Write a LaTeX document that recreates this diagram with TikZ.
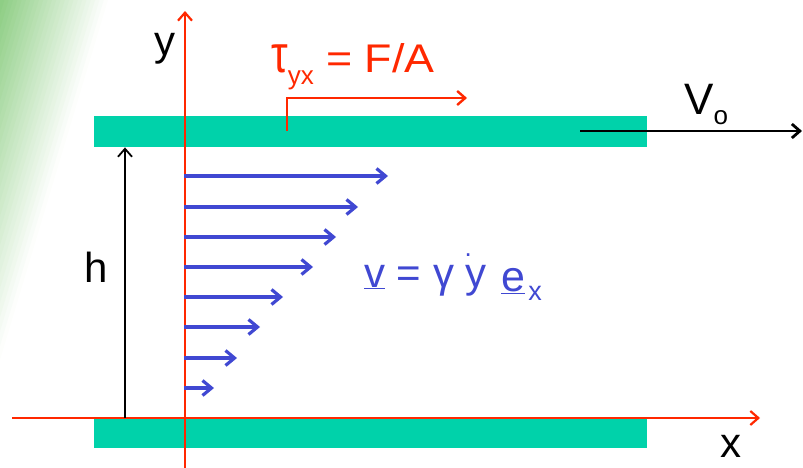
\documentclass[tikz,border=0pt]{standalone}
\usepackage{fontspec}
\setmainfont{Liberation Sans}
\usetikzlibrary{arrows.meta}
\definecolor{plate}{RGB}{0,210,170}
\definecolor{axred}{RGB}{255,40,0}
\definecolor{flowblue}{RGB}{64,72,210}
\definecolor{leafgreen}{RGB}{140,205,130}
\begin{document}
\begin{tikzpicture}[x=1pt,y=-1pt,
  platebox/.style={fill=plate,draw=none,inner sep=0pt,anchor=north west},
  axisline/.style={draw=axred,line width=2.2pt,-{Straight Barb[length=8pt,width=14pt]}},
  vel/.style={draw=flowblue,line width=3.2pt,-{Straight Barb[length=9pt,width=15pt]}},
  blackarrow/.style={draw=black,-{Straight Barb[length=8pt,width=14pt]}},
  lbl/.style={font=\fontsize{42}{42}\selectfont,inner sep=0pt}]
\useasboundingbox (0,0) rectangle (803,468);
% green corner fade
\foreach \i in {25,...,1}{
  \pgfmathsetmacro\pc{100*(1-(\i-0.5)/25)}
  \fill[leafgreen!\pc!white] (0,0) -- ({108*\i/25},0) -- (0,{360*\i/25}) -- cycle;
}
% plates
\node[platebox,minimum width=553pt,minimum height=31pt] (topplate) at (94,116) {};
\node[platebox,minimum width=553pt,minimum height=30pt] (botplate) at (94,418) {};
% axes
\coordinate (xs) at (12,418);
\coordinate (xe) at (760,418);
\coordinate (ys) at (185,468);
\coordinate (ye) at (185,11);
\draw[axisline] (xs) -- (xe);
\draw[axisline] (ys) -- (ye);
\node[lbl] (ylab) at (165,49) {y};
\node[lbl] (xlab) at (731,446) {x};
% h
\coordinate (hb) at (125,418);
\draw[blackarrow,line width=1.8pt] (hb) -- (hb |- topplate.south);
\node[lbl] (hlab) at (96,267) {h};
% shear stress
\coordinate (ts) at (287,131);
\coordinate (tk) at (287,98);
\coordinate (te) at (467,98);
\draw[axisline,line width=2.4pt] (ts) -- (tk) -- (te);
\node[text=axred,font=\fontsize{40}{40}\selectfont,inner sep=0pt,anchor=base west] (tau) at (271,73)
  {\scalebox{1}[1.25]{\fontsize{42}{42}\selectfont τ}\raisebox{-12pt}{\fontsize{26}{26}\selectfont yx}\scalebox{1.12}[1]{ = F/A}};
% V_o
\coordinate (vs) at (580,131);
\coordinate (ve) at (802,131);
\draw[blackarrow,line width=2.8pt] (vs) -- (ve);
\node[font=\fontsize{44}{44}\selectfont,inner sep=0pt,anchor=base west] (vo) at (684,115)
  {V\raisebox{-10pt}{\fontsize{26}{26}\selectfont o}};
% velocity profile
\foreach \yy/\xx [count=\k] in {176/388,207/358,237/336,267/313,297/283,327/260,358/237,388/214}{
  \coordinate (vs\k) at (184,\yy);
  \coordinate (ve\k) at (\xx,\yy);
  \draw[vel] (vs\k) -- (ve\k);
}
\node[text=flowblue,font=\fontsize{42}{42}\selectfont,inner sep=0pt,anchor=base west] (law) at (364,287)
  {\underline{v} = γ \rlap{\kern-1pt\raisebox{31pt}{\fontsize{26}{26}\selectfont .}}y \kern3pt\raisebox{-4pt}{\fontsize{43}{43}\selectfont\underline{e}}\kern3pt\raisebox{-13pt}{\fontsize{27}{27}\selectfont x}};
\end{tikzpicture}
\end{document}
